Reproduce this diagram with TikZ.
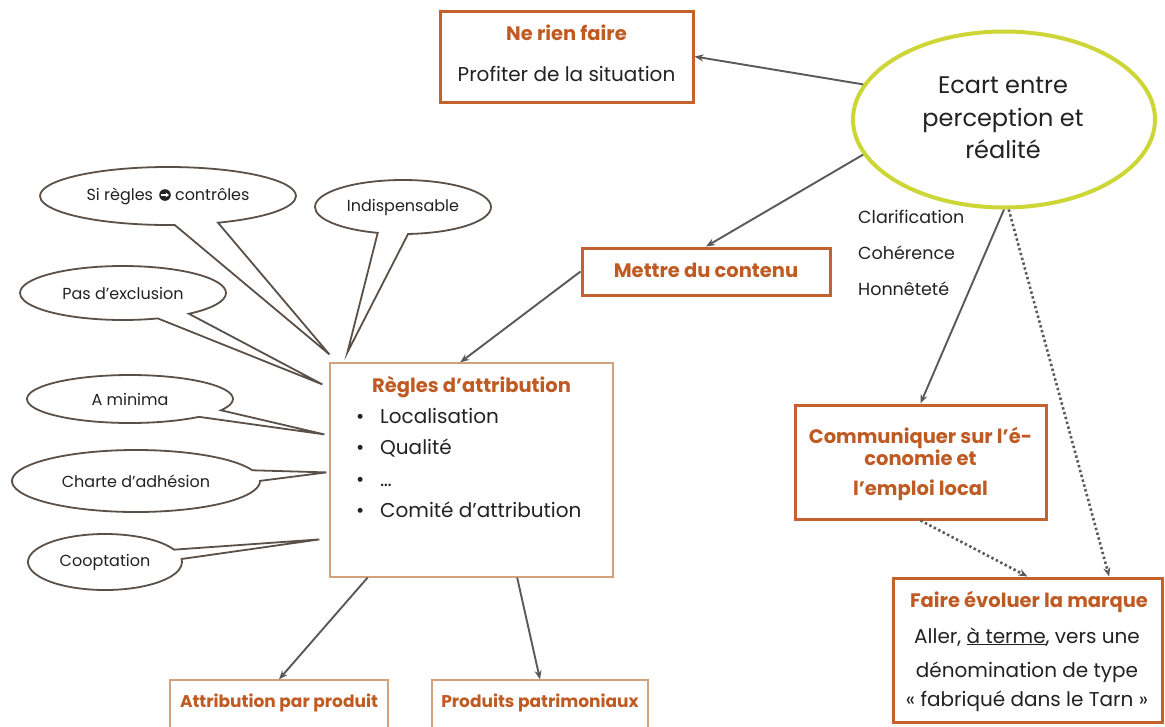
\documentclass[tikz,border=0pt]{standalone}
\usepackage{fontspec}
\setmainfont{Poppins}
\usetikzlibrary{shapes.callouts,shapes.geometric,arrows.meta,calc}
\definecolor{ttlc}{HTML}{BF5A22}
\definecolor{boxc}{HTML}{C4622D}
\definecolor{thinc}{HTML}{D2A27C}
\definecolor{ellc}{HTML}{CDD637}
\definecolor{arrc}{HTML}{595959}
\definecolor{bubc}{HTML}{5B5047}
\definecolor{txtc}{HTML}{222222}
\begin{document}
\begin{tikzpicture}[x=1pt,y=-1pt,
  bigbox/.style={draw=boxc, line width=3pt, fill=white, inner sep=0},
  thinbox/.style={draw=thinc, line width=1.2pt, fill=white, inner sep=0},
  ttl/.style={inner sep=0, anchor=base, text=ttlc, font=\fontsize{19.5}{23}\selectfont\bfseries},
  body/.style={inner sep=0, anchor=base, text=txtc, font=\fontsize{20}{24}\selectfont},
  small/.style={inner sep=0, anchor=base west, text=txtc, font=\fontsize{17.5}{21}\selectfont},
  arr/.style={draw=arrc, line width=1.9pt, -{Stealth[length=9pt,width=7pt]}},
  dotarr/.style={draw=arrc, line width=2.6pt, line cap=butt, dash pattern=on 2.4pt off 2.6pt, -{Stealth[length=9pt,width=7pt]}},
  bub/.style={ellipse callout, draw=bubc, line width=1.8pt, fill=white, inner sep=0, callout pointer arc=20, text=txtc, font=\fontsize{16}{19}\selectfont}
]
\useasboundingbox (0,0) rectangle (1165,726);
\clip (0,0) rectangle (1165,726);
\fill[white] (0,0) rectangle (1165,726);

% boxes
\node[bigbox, minimum width=253pt, minimum height=91pt] (nrf) at (566.5,56.5) {};
\node[ttl] (nrfT) at (566.5,40) {Ne rien faire};
\node[body] (nrfB) at (566.5,81) {Profiter de la situation};

\node[draw=ellc, line width=4pt, ellipse, fill=white, minimum width=302pt, minimum height=176pt, inner sep=0] (ell) at (1004,119.5) {};
\node[body, font=\fontsize{24}{28}\selectfont] (ell1) at (1003,93) {Ecart entre};
\node[body, font=\fontsize{24}{28}\selectfont] (ell2) at (1003,126) {perception et};
\node[body, font=\fontsize{24}{28}\selectfont] (ell3) at (1003,158) {réalité};

\node[bigbox, minimum width=248pt, minimum height=47pt] (met) at (706,271.5) {};
\node[ttl] (metT) at (706,277) {Mettre du contenu};

\node[small] (cl1) at (858,223) {Clarification};
\node[small] (cl2) at (858,259) {Cohérence};
\node[small] (cl3) at (858,295) {Honnêteté};

\node[bigbox, minimum width=251pt, minimum height=114pt] (com) at (920.5,462) {};
\node[ttl] (com1) at (920.5,443) {Communiquer sur l’é-};
\node[ttl] (com2) at (920.5,465) {conomie et};
\node[ttl] (com3) at (920.5,495) {l’emploi local};

\node[bigbox, minimum width=269pt, minimum height=144pt] (fai) at (1027.5,650) {};
\node[ttl] (fai1) at (1029,607) {Faire évoluer la marque};
\node[body] (fai2) at (1027,643) {Aller, \underline{à terme}, vers une};
\node[body] (fai3) at (1027,677) {dénomination de type};
\node[body] (fai4) at (1027,706) {« fabriqué dans le Tarn »};

\node[thinbox, minimum width=283pt, minimum height=214pt] (reg) at (471.5,470) {};
\node[ttl] (regT) at (471.5,392) {Règles d’attribution};
\node[body, anchor=base west] (r1) at (380,423) {\llap{\makebox[24pt][l]{\textbullet}}Localisation};
\node[body, anchor=base west] (r2) at (380,454) {\llap{\makebox[24pt][l]{\textbullet}}Qualité};
\node[body, anchor=base west] (r3) at (380,486) {\llap{\makebox[24pt][l]{\textbullet}}…};
\node[body, anchor=base west] (r4) at (380,517) {\llap{\makebox[24pt][l]{\textbullet}}Comité d’attribution};

\node[thinbox, minimum width=218pt, minimum height=70pt] (att) at (279,715) {};
\node[ttl, font=\fontsize{17}{21}\selectfont\bfseries] (attT) at (279,707) {Attribution par produit};
\node[thinbox, minimum width=216pt, minimum height=70pt] (pro) at (540,715) {};
\node[ttl, font=\fontsize{17}{21}\selectfont\bfseries] (proT) at (540,707) {Produits patrimoniaux};

% callout tips
\coordinate (tA) at ($(reg.north west)+(0,-8)$);
\coordinate (tB) at ($(reg.north west)+(18,-10)$);
\coordinate (tC) at ($(reg.north west)+(-7,22)$);
\coordinate (tD) at ($(reg.north west)+(-5,72)$);
\coordinate (tE) at ($(reg.north west)+(-3,110)$);
\coordinate (tF) at ($(reg.north west)+(-10,177)$);

\node[bub, minimum width=256pt, minimum height=58pt, callout absolute pointer={(tA)}] (bA) at (168,196) {Si règles\hspace{22pt}contrôles};
\node[bub, minimum width=176pt, minimum height=54pt, callout absolute pointer={(tB)}] (bB) at (403,207) {Indispensable};
\node[bub, minimum width=206pt, minimum height=54pt, callout absolute pointer={(tC)}] (bC) at (123,293) {Pas d’exclusion};
\node[bub, minimum width=206pt, minimum height=48pt, callout absolute pointer={(tD)}] (bD) at (130,399) {A minima};
\node[bub, minimum width=248pt, minimum height=62pt, callout absolute pointer={(tE)}] (bE) at (136,481) {Charte d’adhésion};
\node[bub, minimum width=154pt, minimum height=56pt, callout absolute pointer={(tF)}] (bF) at (105,562) {Cooptation};

% symbol between "Si règles" and "contrôles"
\fill[txtc] ($(bA.center)+(-3,-1)$) circle (5.8);
\draw[white, line width=1.5pt, -{Stealth[length=3.4pt,width=4.8pt]}] ($(bA.center)+(-6.6,-1)$) -- ($(bA.center)+(1,-1)$);

% connectors
\draw[arr] (ell.166) -- (nrf.east);
\draw[arr] (ell.194.6) -- (met.north);
\draw[arr] (ell.south) -- (com.north);
\draw[dotarr] (ell.-87) -- (fai.42);
\draw[dotarr] (com.south) -- (fai.north);
\draw[arr] (met.west) -- (reg.96);
\draw[arr] (reg.226) -- (att.north);
\draw[arr] (reg.293.5) -- (pro.north);
\end{tikzpicture}
\end{document}
